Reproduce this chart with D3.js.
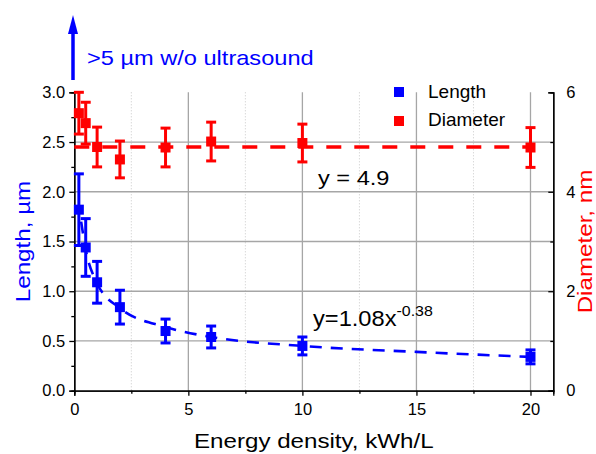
<!DOCTYPE html>
<html>
<head>
<meta charset="utf-8">
<script src="https://cdn.jsdelivr.net/npm/d3@7"></script>
<style>
  body { margin: 0; background: #fff; }
  text { font-family: "Liberation Sans", Arial, sans-serif; }
</style>
</head>
<body>
<script>
// values
var energy = [0.2, 0.5, 1, 2, 4, 6, 10, 20];
var lengthVals = [1.82, 1.44, 1.09, 0.84, 0.60, 0.54, 0.45, 0.34];
var lengthErr = [0.36, 0.29, 0.21, 0.17, 0.12, 0.11, 0.09, 0.07];
var diamVals = [5.58, 5.38, 4.90, 4.65, 4.89, 5.01, 4.98, 4.89];
var diamErr = [0.42, 0.42, 0.40, 0.37, 0.39, 0.39, 0.38, 0.40];

// fitted curves as drawn
var fitLenX = [0.3, 0.5, 1, 2, 4, 6, 10, 15, 20];
var fitLenY = [1.70, 1.42, 1.08, 0.83, 0.64, 0.54, 0.45, 0.39, 0.34];
var fitDiamX = [0, 20];
var fitDiamY = [4.9, 4.9];

var xTicks = [0, 5, 10, 15, 20];
var xMinor = [2.5, 7.5, 12.5, 17.5];
var yLTicks = [0, 0.5, 1.0, 1.5, 2.0, 2.5, 3.0];
var yLMinor = [0.25, 0.75, 1.25, 1.75, 2.25, 2.75];
var yRTicks = [0, 2, 4, 6];
var yRMinor = [1, 3, 5];

var W = 596, H = 454;
var m = {left: 74.3, right: 553.3, top: 92.3, bottom: 390.7};

var blue = "#0000ff", red = "#ff0000";

var x = d3.scaleLinear().domain([0, 21]).range([m.left, m.right]);
var yL = d3.scaleLinear().domain([0, 3]).range([m.bottom, m.top]);
var yR = d3.scaleLinear().domain([0, 6]).range([m.bottom, m.top]);

var svg = d3.select("body").append("svg").attr("width", W).attr("height", H);

// grid
svg.append("g").selectAll("line").data(xMinor).enter().append("line")
    .attr("x1", d => x(d)).attr("x2", d => x(d))
    .attr("y1", m.top).attr("y2", m.bottom)
    .attr("stroke", "#c8c8c8").attr("stroke-width", 1).attr("stroke-dasharray", "1,2");
svg.append("g").selectAll("line").data(xTicks.slice(1)).enter().append("line")
    .attr("x1", d => x(d)).attr("x2", d => x(d))
    .attr("y1", m.top).attr("y2", m.bottom)
    .attr("stroke", "#a6a6a6").attr("stroke-width", 1.3);
svg.append("g").selectAll("line").data(yLTicks.slice(1, -1)).enter().append("line")
    .attr("x1", m.left).attr("x2", m.right)
    .attr("y1", d => yL(d)).attr("y2", d => yL(d))
    .attr("stroke", "#a6a6a6").attr("stroke-width", 1.3);

// axes
var xAxis = d3.axisBottom(x).tickValues(xTicks).tickSize(5).tickPadding(8).tickFormat(d3.format("d"));
var xAxisMinor = d3.axisBottom(x).tickValues(xMinor).tickSize(3).tickFormat("");
var yAxisL = d3.axisLeft(yL).tickValues(yLTicks).tickSize(5).tickPadding(4).tickFormat(d3.format(".1f"));
var yAxisLMinor = d3.axisLeft(yL).tickValues(yLMinor).tickSize(3).tickFormat("");
var yAxisR = d3.axisRight(yR).tickValues(yRTicks).tickSize(-5).tickPadding(13).tickFormat(d3.format("d"));
var yAxisRMinor = d3.axisRight(yR).tickValues(yRMinor).tickSize(-3).tickFormat("");

function styleAxis(g) {
  g.select(".domain").attr("stroke", "#000").attr("stroke-width", 1.3);
  g.selectAll(".tick line").attr("stroke", "#000").attr("stroke-width", 1.3);
  g.selectAll(".tick text").attr("fill", "#000").style("font-size", "16.5px")
    .style("font-family", "'Liberation Sans', Arial, sans-serif");
}

svg.append("g").attr("transform", "translate(0," + m.bottom + ")").call(xAxisMinor).call(styleAxis);
svg.append("g").attr("transform", "translate(0," + m.bottom + ")").call(xAxis).call(styleAxis);
svg.append("g").attr("transform", "translate(" + m.left + ",0)").call(yAxisLMinor).call(styleAxis);
svg.append("g").attr("transform", "translate(" + m.left + ",0)").call(yAxisL).call(styleAxis);
svg.append("g").attr("transform", "translate(" + m.right + ",0)").call(yAxisRMinor).call(styleAxis);
svg.append("g").attr("transform", "translate(" + m.right + ",0)").call(yAxisR).call(styleAxis);

// fit lines
var lineL = d3.line().x(d => x(d[0])).y(d => yL(d[1])).curve(d3.curveMonotoneX);
var lineR = d3.line().x(d => x(d[0])).y(d => yR(d[1]));

svg.append("path")
    .attr("d", lineL(d3.zip(fitLenX, fitLenY)))
    .attr("fill", "none").attr("stroke", blue).attr("stroke-width", 2.6)
    .attr("stroke-dasharray", "12,9");
svg.append("path")
    .attr("d", lineR(d3.zip(fitDiamX, fitDiamY)))
    .attr("fill", "none").attr("stroke", red).attr("stroke-width", 3.4)
    .attr("stroke-dasharray", "15,13");

// error bars + markers
function drawSeries(vals, errs, yScale, color) {
  var data = d3.zip(energy, vals, errs);
  var g = svg.append("g");
  g.selectAll("line.err").data(data).enter().append("line")
      .attr("x1", d => x(d[0])).attr("x2", d => x(d[0]))
      .attr("y1", d => yScale(d[1] - d[2])).attr("y2", d => yScale(d[1] + d[2]))
      .attr("stroke", color).attr("stroke-width", 3);
  [-1, 1].forEach(function (s) {
    g.selectAll(null).data(data).enter().append("line")
        .attr("x1", d => x(d[0]) - 5).attr("x2", d => x(d[0]) + 5)
        .attr("y1", d => yScale(d[1] + s * d[2])).attr("y2", d => yScale(d[1] + s * d[2]))
        .attr("stroke", color).attr("stroke-width", 3);
  });
  g.selectAll("rect").data(data).enter().append("rect")
      .attr("x", d => x(d[0]) - 5).attr("y", d => yScale(d[1]) - 5)
      .attr("width", 10).attr("height", 10)
      .attr("fill", color);
}
drawSeries(diamVals, diamErr, yR, red);
drawSeries(lengthVals, lengthErr, yL, blue);

// legend
svg.append("rect").attr("x", 394).attr("y", 87).attr("width", 10).attr("height", 10).attr("fill", blue);
svg.append("rect").attr("x", 394).attr("y", 116).attr("width", 10).attr("height", 10).attr("fill", red);
svg.append("text").attr("x", 428).attr("y", 98).style("font-size", "19px").text("Length");
svg.append("text").attr("x", 428).attr("y", 126).style("font-size", "19px").text("Diameter");

// annotations (Origin text is a bit wider than Liberation Sans, so stretch it)
svg.append("text").attr("transform", "translate(318,185) scale(1.18,1)")
    .style("font-size", "20px").text("y = 4.9");
var eq = svg.append("text").attr("transform", "translate(313,326) scale(1.1,1)")
    .style("font-size", "21.5px");
eq.append("tspan").text("y=1.08x");
eq.append("tspan").attr("dy", -10).style("font-size", "14.5px").text("-0.38");

// axis titles
svg.append("text").attr("transform", "translate(" + ((m.left + m.right) / 2) + ",448) scale(1.15,1)")
    .attr("text-anchor", "middle").style("font-size", "21px")
    .text("Energy density, kWh/L");
svg.append("text").attr("transform", "translate(30," + ((m.top + m.bottom) / 2) + ") rotate(-90) scale(1.18,1)")
    .attr("text-anchor", "middle").attr("fill", blue).style("font-size", "20.5px")
    .text("Length, \u00b5m");
svg.append("text").attr("transform", "translate(592," + ((m.top + m.bottom) / 2) + ") rotate(-90) scale(1.18,1)")
    .attr("text-anchor", "middle").attr("fill", red).style("font-size", "20.5px")
    .text("Diameter, nm");

// arrow + note
svg.append("line").attr("x1", 73).attr("x2", 73).attr("y1", 80).attr("y2", 30)
    .attr("stroke", blue).attr("stroke-width", 3.5);
svg.append("path").attr("d", "M73,15 L68,34 L78,34 Z").attr("fill", blue);
svg.append("text").attr("transform", "translate(87,65) scale(1.18,1)")
    .attr("fill", blue).style("font-size", "20px")
    .text(">5 \u00b5m w/o ultrasound");
</script>
</body>
</html>
